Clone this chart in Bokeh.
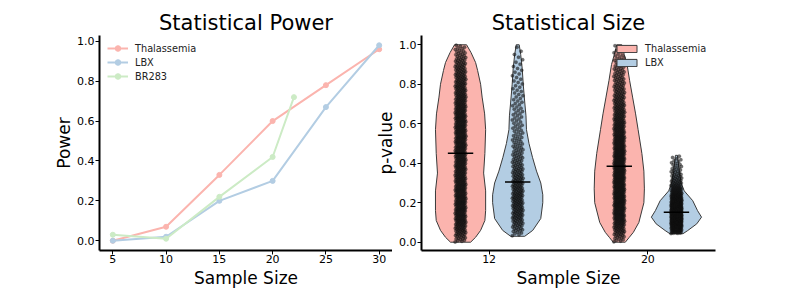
import numpy as np
from bokeh.plotting import figure
from bokeh.layouts import row
from bokeh.models import (Range1d, FixedTicker, PrintfTickFormatter, Legend,
                          LegendItem, ColumnDataSource)
from bokeh.embed import file_html
from bokeh.resources import INLINE

# ---------------- data: statistical power ----------------
sample_sizes = [5, 10, 15, 20, 25, 30]
power_thalassemia = [0.00, 0.07, 0.33, 0.60, 0.78, 0.96]
power_lbx = [0.00, 0.02, 0.20, 0.30, 0.67, 0.98]
br283_sample_sizes = [5, 10, 15, 20, 22]
power_br283 = [0.03, 0.01, 0.22, 0.42, 0.72]

# ---------------- data: statistical size (violins) ----------------
size_categories = ["12", "20"]
group_names = ["Thalassemia", "LBX"]

# p-value levels and relative violin width (density)
thal12_p = [0.00, 0.025, 0.06, 0.11, 0.16, 0.26, 0.35, 0.45, 0.57, 0.65, 0.735, 0.80, 0.87, 0.91, 0.96, 1.00]
thal12_w = [0.40, 0.60, 0.80, 0.97, 1.00, 1.00, 0.92, 0.97, 1.00, 0.96, 0.86, 0.80, 0.68, 0.60, 0.42, 0.24]
lbx12_p = [0.03, 0.06, 0.12, 0.20, 0.24, 0.30, 0.36, 0.43, 0.50, 0.57, 0.64, 0.71, 0.80, 0.88, 0.95, 1.00]
lbx12_w = [0.28, 0.60, 0.92, 1.00, 1.00, 0.92, 0.75, 0.59, 0.45, 0.35, 0.33, 0.28, 0.22, 0.18, 0.12, 0.06]
thal20_p = [0.00, 0.025, 0.05, 0.10, 0.20, 0.27, 0.36, 0.45, 0.57, 0.65, 0.735, 0.82, 0.90, 0.95, 1.00]
thal20_w = [0.24, 0.40, 0.56, 0.78, 0.98, 1.00, 0.98, 0.90, 0.75, 0.65, 0.53, 0.41, 0.31, 0.20, 0.10]
lbx20_p = [0.043, 0.059, 0.093, 0.127, 0.16, 0.21, 0.26, 0.30, 0.36, 0.40, 0.44]
lbx20_w = [0.26, 0.45, 0.81, 1.00, 0.84, 0.65, 0.31, 0.19, 0.11, 0.08, 0.04]

medians = {"Thalassemia": [0.45, 0.385], "LBX": [0.305, 0.152]}
point_counts = {"Thalassemia": [650, 650], "LBX": [280, 520]}

FONT = "DejaVu Sans"
PINK, BLUE, GREEN = "#fbb4ae", "#b3cde3", "#ccebc5"
DODGE = 0.18
HALF_W = 0.158
JITTER = 0.034
MED_HALF = 0.08


def style(p, xlabel, ylabel, title):
    p.outline_line_color = None
    p.grid.visible = False
    p.background_fill_alpha = 0
    p.border_fill_alpha = 0
    p.title.text = title
    p.title.align = "center"
    p.title.text_font = FONT
    p.title.text_font_size = "21px"
    p.title.text_font_style = "normal"
    p.title.text_color = "black"
    p.title.standoff = 2
    for ax in (p.xaxis[0], p.yaxis[0]):
        ax.axis_line_width = 2
        ax.axis_line_color = "black"
        ax.major_tick_in = 0
        ax.major_tick_out = 4
        ax.major_tick_line_width = 1
        ax.minor_tick_in = 0
        ax.minor_tick_out = 0
        ax.major_label_text_font = FONT
        ax.major_label_text_font_size = "11px"
        ax.major_label_text_color = "black"
        ax.axis_label_text_font = FONT
        ax.axis_label_text_font_size = "17px"
        ax.axis_label_text_font_style = "normal"
        ax.axis_label_text_color = "black"
    p.xaxis[0].axis_label = xlabel
    p.yaxis[0].axis_label = ylabel
    p.xaxis[0].major_label_standoff = 0
    p.xaxis[0].axis_label_standoff = 2
    p.yaxis[0].major_label_standoff = 1
    p.yaxis[0].axis_label_standoff = 0
    p.yaxis[0].ticker = FixedTicker(ticks=[0, 0.2, 0.4, 0.6, 0.8, 1.0])
    p.yaxis[0].formatter = PrintfTickFormatter(format="%.1f")


# ---------------- left panel ----------------
p1 = figure(width=392, height=292, x_range=Range1d(3.75, 31.25), y_range=Range1d(-0.049, 1.029),
            output_backend="svg", toolbar_location=None,
            min_border_left=99, min_border_right=0, min_border_top=35, min_border_bottom=42)
style(p1, "Sample Size", "Power", "Statistical Power")
p1.xaxis[0].ticker = FixedTicker(ticks=sample_sizes)

items = []
for xs, ys, color, name in [(sample_sizes, power_thalassemia, PINK, "Thalassemia"),
                            (sample_sizes, power_lbx, BLUE, "LBX"),
                            (br283_sample_sizes, power_br283, GREEN, "BR283")]:
    src = ColumnDataSource(dict(x=xs, y=ys))
    ln = p1.line("x", "y", source=src, line_color=color, line_width=2)
    sc = p1.scatter("x", "y", source=src, size=5, fill_color=color, line_color=color)
    items.append(LegendItem(label=name, renderers=[ln, sc]))

leg1 = Legend(items=items, location=(8, 167), glyph_width=21, glyph_height=14, label_height=14,
              label_standoff=7, spacing=0, padding=0, margin=0,
              border_line_alpha=0, background_fill_alpha=0,
              label_text_font=FONT, label_text_font_size="9.75px", label_text_color="#222222")
p1.add_layout(leg1)

# ---------------- right panel ----------------
p2 = figure(width=405, height=292, x_range=Range1d(-0.426, 1.426), y_range=Range1d(-0.042, 1.047),
            output_backend="svg", toolbar_location=None,
            min_border_left=51, min_border_right=60, min_border_top=35, min_border_bottom=42,
            margin=(0, 0, 0, -22))
style(p2, "Sample Size", "p-value", "Statistical Size")
p2.xaxis[0].ticker = FixedTicker(ticks=list(range(len(size_categories))))
p2.xaxis[0].major_label_overrides = {i: c for i, c in enumerate(size_categories)}

profiles = {"Thalassemia": [(thal12_p, thal12_w), (thal20_p, thal20_w)],
            "LBX": [(lbx12_p, lbx12_w), (lbx20_p, lbx20_w)]}
colors = {"Thalassemia": PINK, "LBX": BLUE}
offsets = {"Thalassemia": -DODGE, "LBX": DODGE}


def strip_points(levels, widths, n, center):
    grid = np.linspace(levels[0], levels[-1], 400)
    dens = np.interp(grid, levels, widths)
    cdf = np.concatenate([[0.0], np.cumsum((dens[1:] + dens[:-1]) / 2 * np.diff(grid))])
    cdf /= cdf[-1]
    q = (np.arange(n) + 0.5) / n
    ys = np.interp(q, cdf, grid)
    jit = ((np.arange(n) * 0.6180339887) % 1.0) * 2 - 1
    return center + jit * JITTER, ys


items2 = []
pts_x, pts_y = [], []
med_x0, med_x1, med_y = [], [], []
for g in group_names:
    vxs, vys = [], []
    for ci, (lev, wid) in enumerate(profiles[g]):
        c = ci + offsets[g]
        lev = np.array(lev)
        wid = np.array(wid) * HALF_W
        vxs.append(list(np.concatenate([c - wid, (c + wid)[::-1]])))
        vys.append(list(np.concatenate([lev, lev[::-1]])))
        px, py = strip_points(lev, wid, point_counts[g][ci], c)
        pts_x.extend(px)
        pts_y.extend(py)
        med_x0.append(c - MED_HALF)
        med_x1.append(c + MED_HALF)
        med_y.append(medians[g][ci])
    r = p2.patches(vxs, vys, fill_color=colors[g], line_color="#3a3a3a", line_width=1)
    items2.append(LegendItem(label=g, renderers=[r]))

p2.scatter(pts_x, pts_y, size=3.5, fill_color="#111111", fill_alpha=0.6,
           line_color="#111111", line_alpha=0.3, line_width=0.5)
p2.segment(med_x0, med_y, med_x1, med_y, line_color="black", line_width=1.5)

leg2 = Legend(items=items2, location=(193, 181), glyph_width=25, glyph_height=9, label_height=14,
              label_standoff=6, spacing=0, padding=0, margin=0,
              border_line_alpha=0, background_fill_alpha=0,
              label_text_font=FONT, label_text_font_size="9.75px", label_text_color="#222222")
p2.add_layout(leg2)

layout = row(p1, p2)
open("out.html", "w").write(file_html(layout, INLINE))
